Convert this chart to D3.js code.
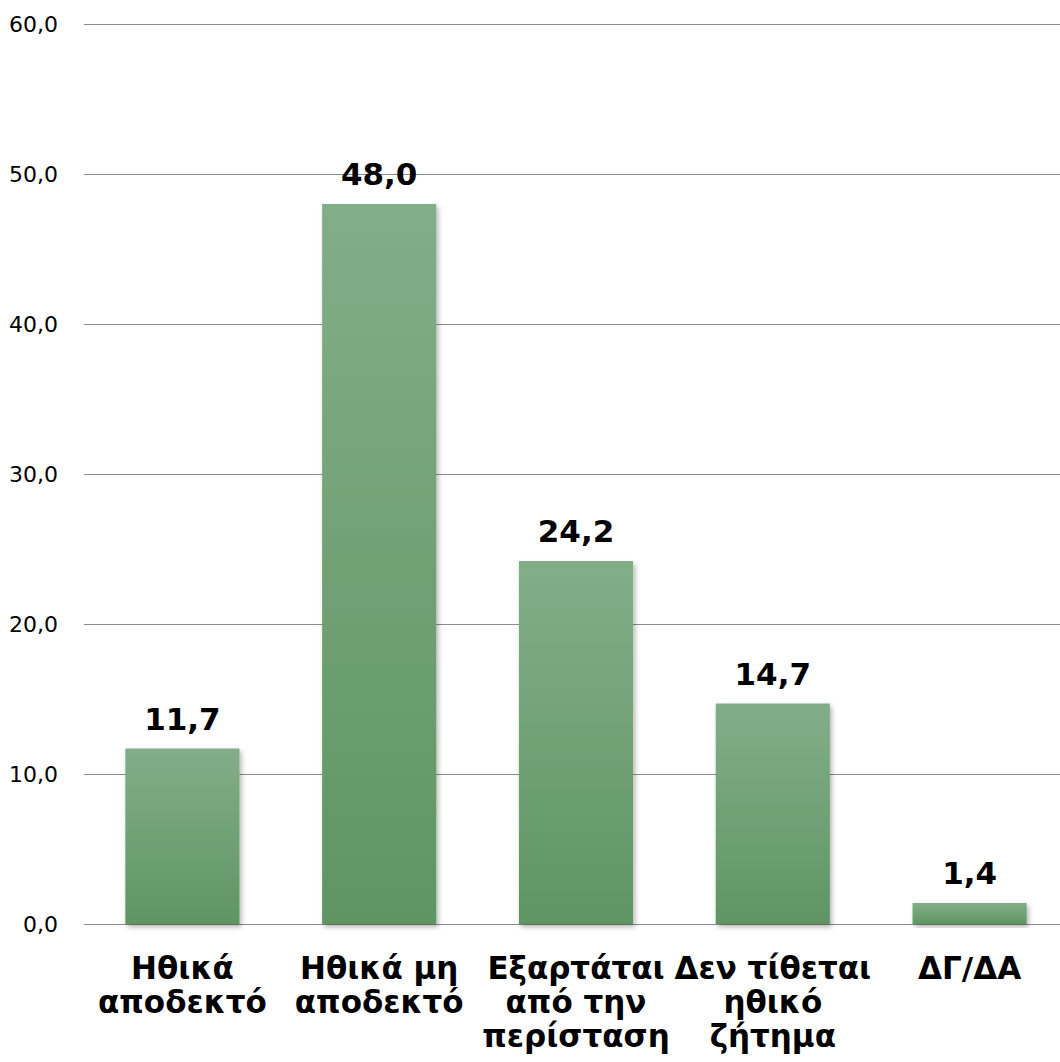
<!DOCTYPE html>
<html>
<head>
<meta charset="utf-8">
<script src="https://cdn.jsdelivr.net/npm/d3@7"></script>
<style>
  body { margin: 0; background: #fff; }
  svg { display: block; font-family: 'DejaVu Sans', Verdana, sans-serif; }
</style>
</head>
<body>
<div id="chart"></div>
<script>
// Data
var categories = [
  ['Ηθικά', 'αποδεκτό'],
  ['Ηθικά μη', 'αποδεκτό'],
  ['Εξαρτάται', 'από την', 'περίσταση'],
  ['Δεν τίθεται', 'ηθικό', 'ζήτημα'],
  ['ΔΓ/ΔΑ']
];
var values = [11.7, 48.0, 24.2, 14.7, 1.4];
var yTicks = [0, 10, 20, 30, 40, 50, 60];

var W = 1060, H = 1062;
var margin = { top: 24, right: -8, bottom: 138, left: 84 };
var width = W - margin.left - margin.right,
    height = H - margin.top - margin.bottom;

var fmt = function(v) { return v.toFixed(1).replace('.', ','); };

var svg = d3.select('#chart').append('svg')
  .attr('width', W)
  .attr('height', H);

var defs = svg.append('defs');
var grad = defs.append('linearGradient')
  .attr('id', 'barGrad')
  .attr('x1', 0).attr('y1', 0).attr('x2', 0).attr('y2', 1);
grad.append('stop').attr('offset', '0%').attr('stop-color', '#82ae87');
grad.append('stop').attr('offset', '100%').attr('stop-color', '#5f9564');

var shadow = defs.append('filter').attr('id', 'shadow')
  .attr('x', '-10%').attr('y', '-10%').attr('width', '125%').attr('height', '125%');
shadow.append('feDropShadow')
  .attr('dx', 2).attr('dy', 3).attr('stdDeviation', 2.5)
  .attr('flood-color', '#000').attr('flood-opacity', 0.3);

var g = svg.append('g')
  .attr('transform', 'translate(' + margin.left + ',' + margin.top + ')');

var x = d3.scaleBand()
  .domain(d3.range(categories.length))
  .range([0, width])
  .paddingInner(0.42)
  .paddingOuter(0.21);

var y = d3.scaleLinear().domain([0, 60]).range([height, 0]);

// gridlines
g.selectAll('.grid').data(yTicks)
  .enter().append('line')
    .attr('class', 'grid')
    .attr('x1', 0)
    .attr('x2', W)
    .attr('y1', function(d) { return Math.round(y(d)) + 0.5; })
    .attr('y2', function(d) { return Math.round(y(d)) + 0.5; })
    .attr('stroke', '#8c8c8c')
    .attr('stroke-width', 1);

// y labels
g.selectAll('.ylab').data(yTicks)
  .enter().append('text')
    .attr('class', 'ylab')
    .attr('x', -26)
    .attr('y', function(d) { return y(d); })
    .attr('dy', '0.36em')
    .attr('text-anchor', 'end')
    .style('font-size', '22px')
    .attr('fill', '#000')
    .text(fmt);

// bars
g.selectAll('.bar').data(values)
  .enter().append('rect')
    .attr('class', 'bar')
    .attr('x', function(d, i) { return x(i); })
    .attr('y', function(d) { return y(d); })
    .attr('width', x.bandwidth())
    .attr('height', function(d) { return height - y(d); })
    .attr('fill', 'url(#barGrad)')
    .attr('filter', 'url(#shadow)');

// value labels
g.selectAll('.val').data(values)
  .enter().append('text')
    .attr('class', 'val')
    .attr('x', function(d, i) { return x(i) + x.bandwidth() / 2; })
    .attr('y', function(d) { return y(d) - 19; })
    .attr('text-anchor', 'middle')
    .style('font-size', '31px')
    .style('font-weight', 'bold')
    .text(fmt);

// category labels
var cats = g.selectAll('.cat').data(categories)
  .enter().append('text')
    .attr('class', 'cat')
    .attr('text-anchor', 'middle')
    .style('font-size', '31px')
    .style('font-weight', 'bold')
    .attr('transform', function(d, i) {
      return 'translate(' + (x(i) + x.bandwidth() / 2) + ',' + (height + 55) + ')';
    });

cats.selectAll('tspan').data(function(d) { return d; })
  .enter().append('tspan')
    .attr('x', 0)
    .attr('y', function(d, i) { return i * 34; })
    .text(function(d) { return d; });
</script>
</body>
</html>
